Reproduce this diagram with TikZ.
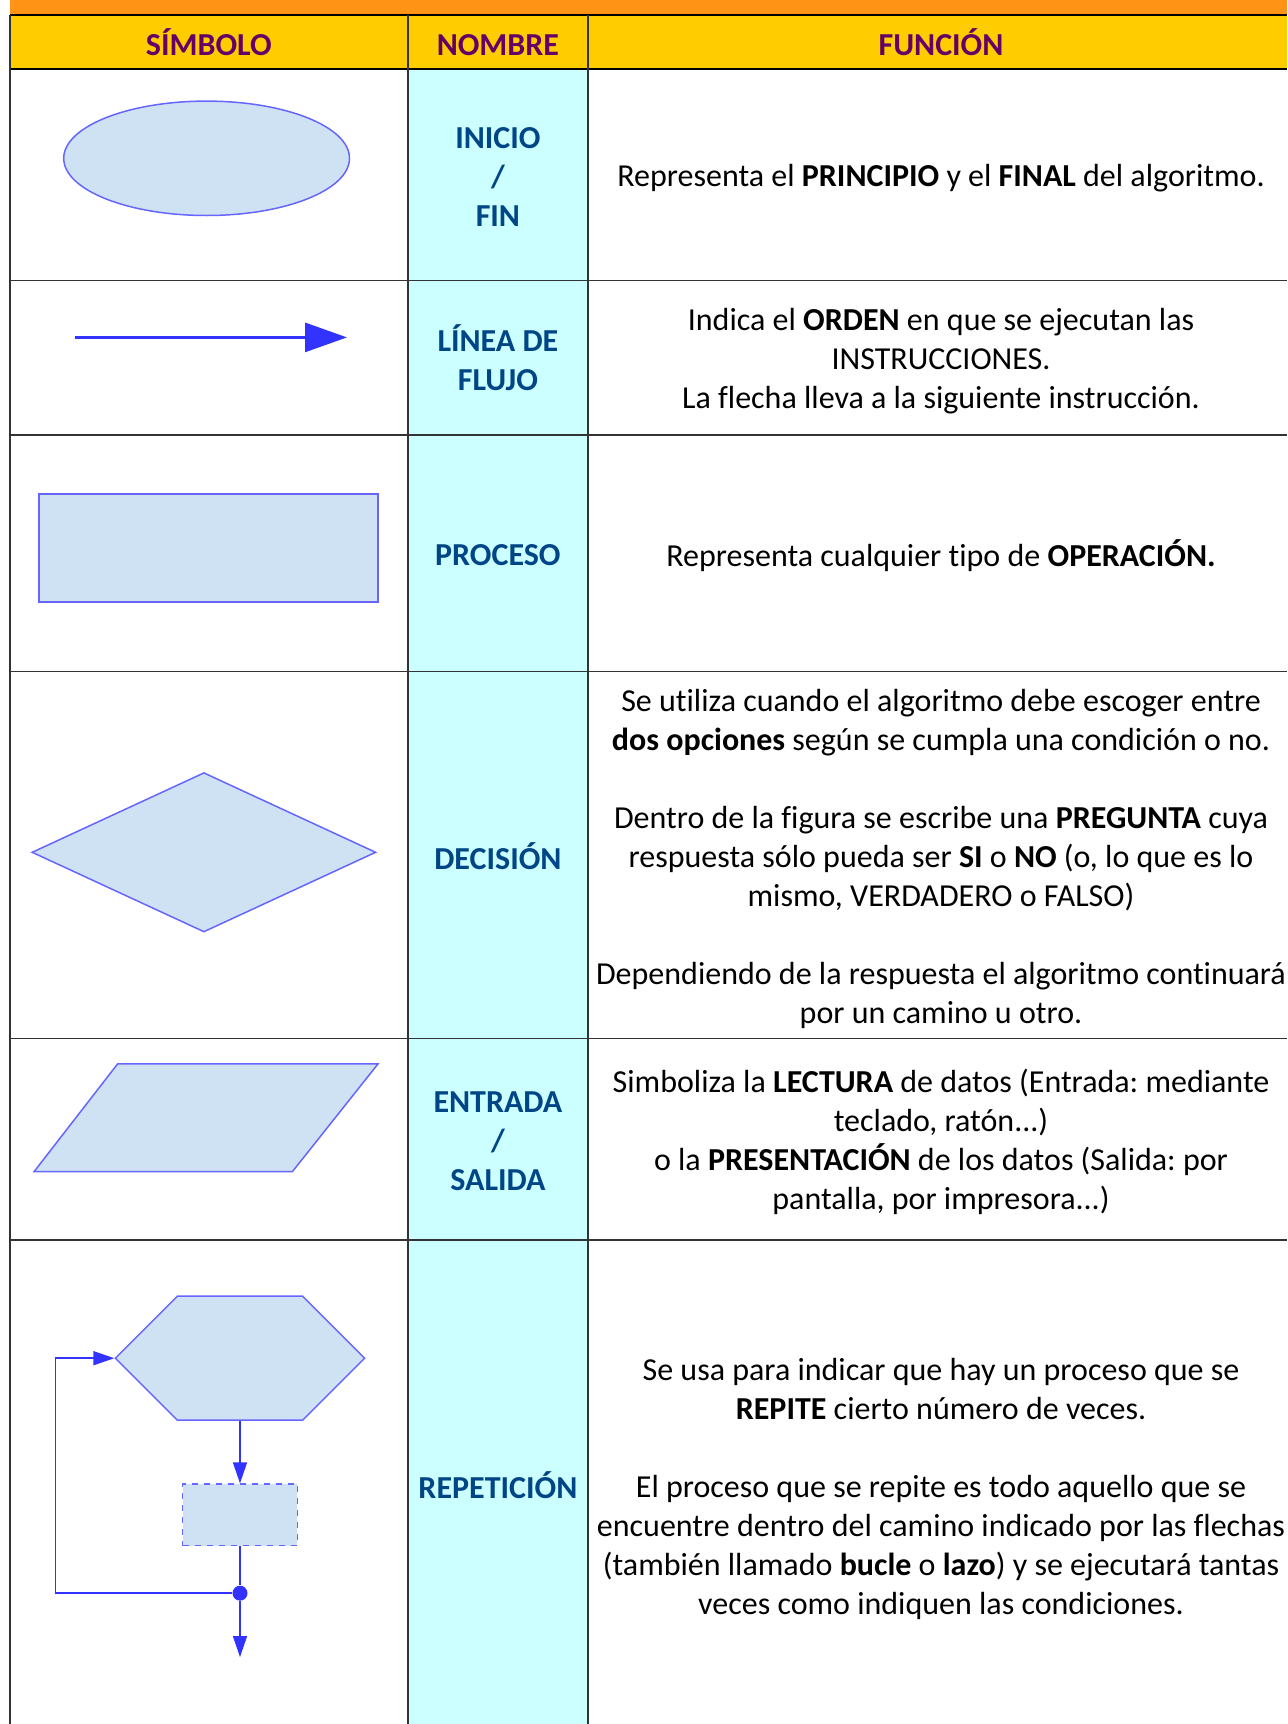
\documentclass[tikz,border=0pt]{standalone}
\usepackage{fontspec}
\setmainfont{Carlito}[Ligatures={NoCommon}]
\usepackage{tikz}
\usetikzlibrary{arrows.meta,shapes.geometric,shapes.symbols,positioning}
\frenchspacing

\definecolor{barorange}{RGB}{255,147,22}
\definecolor{headyellow}{RGB}{255,204,0}
\definecolor{headpurple}{RGB}{102,0,102}
\definecolor{namecyan}{RGB}{204,255,255}
\definecolor{nameblue}{RGB}{0,69,134}
\definecolor{symfill}{RGB}{207,226,243}
\definecolor{symline}{RGB}{102,102,255}
\definecolor{flowblue}{RGB}{51,51,255}

\begin{document}
\begin{tikzpicture}[
        x=0.5pt, y=-0.5pt,
        every node/.style={inner sep=0pt, font=\fontsize{16}{19.5}\selectfont},
        symbolshape/.style={draw=symline, fill=symfill, line width=0.75pt},
        headlabel/.style={text=headpurple, font=\fontsize{16}{19.5}\selectfont\bfseries},
        namelabel/.style={text=nameblue, align=center, font=\fontsize{16}{19.5}\selectfont\bfseries},
        functext/.style={align=center},
        tablerule/.style={line width=0.75pt, draw=black!80},
        flowline/.style={draw=flowblue, line width=0.75pt, -{Triangle[length=10.5pt,width=7pt]}},
        joindot/.style={circle, fill=flowblue, minimum size=7.5pt}
    ]
    \useasboundingbox (0,0) rectangle (1287,1724);

    % Table
    \fill[barorange] (10,0) rectangle (1287,15.4);
    \fill[headyellow] (10,15.4) rectangle (1287,69.2);
    \fill[namecyan] (407.8,69.2) rectangle (588,1724);
    \foreach \y in {280.3,435.2,671.6,1038.7,1239.8}
        \draw[tablerule] (10,\y) -- (1287,\y);
    \draw[tablerule, draw=black, line width=1pt] (10,15.4) -- (1287,15.4) (10,69.2) -- (1287,69.2);
    \foreach \x in {10,407.8,588}
        \draw[tablerule] (\x,15.4) -- (\x,1724);

    % Header
    \node[headlabel, anchor=base] (hsimbolo) at (208.9,55) {SÍMBOLO};
    \node[headlabel, anchor=base] (hnombre) at (497.9,55) {NOMBRE};
    \node[headlabel, anchor=base] (hfuncion) at (941,55) {FUNCIÓN};

    % Names
    \node[namelabel] (ninicio) at (497.9,177) {INICIO\\/\\FIN};
    \node[namelabel] (nlinea) at (497.9,358) {LÍNEA DE\\FLUJO};
    \node[namelabel] (nproceso) at (497.9,555) {PROCESO};
    \node[namelabel] (ndecision) at (497.9,856) {DECISIÓN};
    \node[namelabel] (nentrada) at (497.9,1141) {ENTRADA\\/\\SALIDA};
    \node[namelabel] (nrepeticion) at (497.9,1485) {REPETICIÓN};

    % Functions
    \node[functext] (finicio) at (941,178.5) {Representa el \textbf{PRINCIPIO} y el \textbf{FINAL} del algoritmo.};
    \node[functext] (flinea) at (941,361) {Indica el \textbf{ORDEN} en que se ejecutan las\\INSTRUCCIONES.\\La flecha lleva a la siguiente instrucción.};
    \node[functext] (fproceso) at (941,556) {Representa cualquier tipo de \textbf{OPERACIÓN.}};
    \node[functext] (fdecision) at (941,859) {Se utiliza cuando el algoritmo debe escoger entre\\
        \textbf{dos opciones} según se cumpla una condición o no.\\[19.5pt]
        Dentro de la figura se escribe una \textbf{PREGUNTA} cuya\\
        respuesta sólo pueda ser \textbf{SI} o \textbf{NO} (o, lo que es lo\\
        mismo, VERDADERO o FALSO)\\[19.5pt]
        Dependiendo de la respuesta el algoritmo continuará\\
        por un camino u otro.};
    \node[functext] (fentrada) at (941,1142) {Simboliza la \textbf{LECTURA} de datos (Entrada: mediante\\
        teclado, ratón...)\\
        o la \textbf{PRESENTACIÓN} de los datos (Salida: por\\
        pantalla, por impresora...)};
    \node[functext] (frepeticion) at (941,1489) {Se usa para indicar que hay un proceso que se\\
        \textbf{REPITE} cierto número de veces.\\[19.5pt]
        El proceso que se repite es todo aquello que se\\
        encuentre dentro del camino indicado por las flechas\\
        (también llamado \textbf{bucle} o \textbf{lazo}) y se ejecutará tantas\\
        veces como indiquen las condiciones.};

    % Symbols
    \node[symbolshape, ellipse, minimum width=142.9pt, minimum height=57.2pt] (terminal) at (206.6,158.3) {};
    \coordinate (flowstart) at (75,337.4);
    \coordinate (flowend) at (347,337.4);
    \draw[flowline, line width=1.5pt, -{Triangle[length=21pt,width=14.5pt]}] (flowstart) -- (flowend);
    \node[symbolshape, rectangle, line width=1pt, minimum width=169.5pt, minimum height=54pt] (process) at (208.8,548) {};
    \node[symbolshape, diamond, minimum width=172pt, minimum height=79.7pt] (decision) at (203.9,852.3) {};
    \draw[symbolshape] (117.6,1063.9) -- (378,1063.9) -- (292.4,1171.6) -- (34.1,1171.6) -- cycle;

    % Loop
    \node[symbolshape, signal, signal to=east and west, signal pointer angle=90,
        minimum width=124.6pt, minimum height=62pt] (loopcheck) at (240,1358.2) {};
    \node[symbolshape, dashed, minimum width=57.3pt, minimum height=30.8pt, below=31.2pt of loopcheck] (loopbody) {};
    \node[joindot, below=19.4pt of loopbody] (loopjoin) {};
    \coordinate[below=28pt of loopjoin] (loopexit);
    \coordinate[left=88.2pt of loopjoin] (loopcorner);

    % Edges
    \draw[flowline] (loopcheck.south) -- (loopbody.north);
    \draw[flowline, -] (loopbody.south) -- (loopjoin);
    \draw[flowline] (loopjoin) -- (loopexit);
    \draw[flowline] (loopjoin) -- (loopcorner) |- (loopcheck.west);

\end{tikzpicture}
\end{document}
